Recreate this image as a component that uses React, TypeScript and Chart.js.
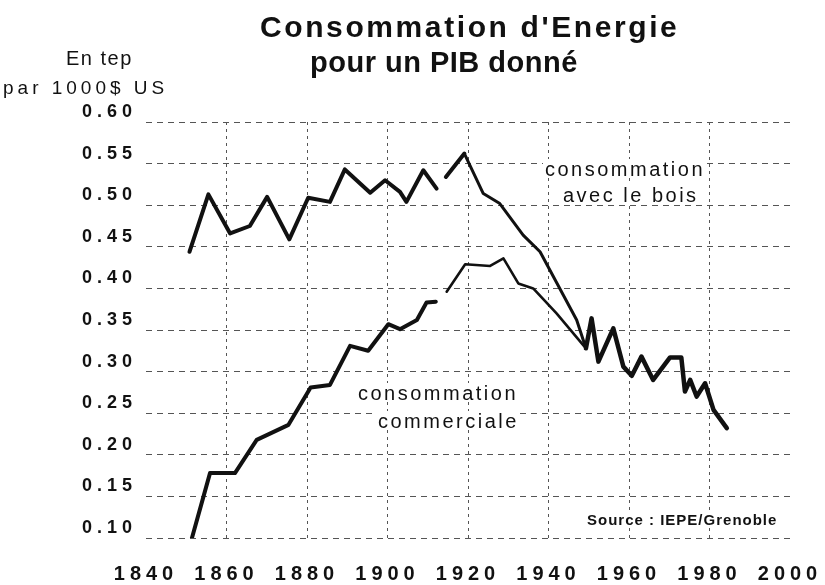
import React, { useEffect, useRef } from 'react';
import { Chart, registerables } from 'chart.js';

Chart.register(...registerables);

// ---- data ----
const BOIS_YEARS = [
  1850.8, 1855.5, 1860.9, 1865.8, 1870.1, 1875.6, 1880.3, 1885.7, 1889.4, 1895.7,
  1899.4, 1903.1, 1904.7, 1908.9, 1912.2, 1913.0, 1914.5, 1919.1, 1923.8, 1927.9,
  1933.7, 1937.9, 1947.0, 1949.3, 1950.7, 1952.4, 1956.1, 1958.6, 1960.7, 1963.1,
  1966.0, 1970.2, 1973.0, 1973.9, 1975.2, 1976.8, 1978.9, 1981.0, 1984.3,
];
const BOIS_VALUES: (number | null)[] = [
  0.444, 0.513, 0.466, 0.475, 0.510, 0.459, 0.509, 0.504, 0.543, 0.515,
  0.530, 0.516, 0.504, 0.542, 0.520, null, 0.534, 0.562, 0.514, 0.502,
  0.464, 0.444, 0.362, 0.328, 0.364, 0.312, 0.352, 0.306, 0.295, 0.318,
  0.290, 0.317, 0.317, 0.276, 0.290, 0.270, 0.286, 0.254, 0.232,
];
const COMM_YEARS = [
  1851.3, 1855.9, 1862.1, 1867.5, 1875.4, 1880.9, 1885.7, 1890.7, 1895.2, 1900.2,
  1903.1, 1907.3, 1909.7, 1912.0, 1913.0, 1914.7, 1919.3, 1925.5, 1928.8, 1932.5,
  1936.2, 1942.0, 1949.3,
];
const COMM_VALUES: (number | null)[] = [
  0.098, 0.178, 0.178, 0.218, 0.236, 0.281, 0.284, 0.331, 0.325, 0.357,
  0.351, 0.362, 0.383, 0.384, null, 0.396, 0.429, 0.427, 0.436, 0.406,
  0.400, 0.370, 0.328,
];
const X_MIN = 1840;
const X_MAX = 2000;
const X_STEP = 20;
const Y_MIN = 0.1;
const Y_MAX = 0.6;
const Y_STEP = 0.05;

const TITLE_LINES = ["Consommation d'Energie", 'pour un PIB donné'];
const UNIT_LINES = ['En tep', 'par 1000$ US'];
const BOIS_LABEL = ['consommation', 'avec le bois'];
const COMM_LABEL = ['consommation', 'commerciale'];
const SOURCE_TEXT = 'Source : IEPE/Grenoble';

const INK = '#111';
const GRID = '#555';

function toPoints(xs: number[], ys: (number | null)[]) {
  return xs.map((x, i) => ({ x, y: ys[i] }));
}

const textPlugin = {
  id: 'scanTexts',
  beforeDraw(chart: any) {
    const ctx = chart.ctx as CanvasRenderingContext2D;
    ctx.save();
    ctx.fillStyle = '#fff';
    ctx.fillRect(0, 0, chart.width, chart.height);
    ctx.restore();
    (ctx as any).letterSpacing = '5px';
  },
  afterDraw(chart: any) {
    const ctx = chart.ctx as CanvasRenderingContext2D;
    ctx.save();
    const draw = (
      text: string,
      x: number,
      y: number,
      font: string,
      spacing: number,
      clear = false
    ) => {
      ctx.font = font;
      (ctx as any).letterSpacing = spacing + 'px';
      ctx.textAlign = 'left';
      ctx.textBaseline = 'alphabetic';
      if (clear) {
        const m = ctx.measureText(text);
        ctx.fillStyle = '#fff';
        ctx.fillRect(
          x - 2,
          y - m.actualBoundingBoxAscent - 2,
          m.width + 2,
          m.actualBoundingBoxAscent + m.actualBoundingBoxDescent + 4
        );
      }
      ctx.fillStyle = INK;
      ctx.fillText(text, x, y);
    };
    const F = '"Liberation Sans", Arial, sans-serif';
    draw(TITLE_LINES[0], 260, 37, `bold 30px ${F}`, 2.6);
    draw(TITLE_LINES[1], 310, 72, `bold 29px ${F}`, 0.5);
    draw(UNIT_LINES[0], 66, 65, `20px ${F}`, 1.5);
    draw(UNIT_LINES[1], 3, 94, `19px ${F}`, 4);
    draw(BOIS_LABEL[0], 545, 176, `20px ${F}`, 2.5, true);
    draw(BOIS_LABEL[1], 563, 202, `20px ${F}`, 2.5, true);
    draw(COMM_LABEL[0], 358, 400, `20px ${F}`, 2.5, true);
    draw(COMM_LABEL[1], 378, 428, `20px ${F}`, 2.5, true);
    draw(SOURCE_TEXT, 587, 525, `bold 15px ${F}`, 1, true);
    ctx.restore();
    (ctx as any).letterSpacing = '0px';
  },
};

export default function App() {
  const ref = useRef<HTMLCanvasElement | null>(null);

  useEffect(() => {
    document.body.style.margin = '0';
    if (!ref.current) return;
    const chart = new Chart(ref.current, {
      type: 'line',
      data: {
        datasets: [
          {
            label: 'consommation avec le bois',
            data: toPoints(BOIS_YEARS, BOIS_VALUES),
            borderColor: INK,
            borderWidth: 4,
            pointRadius: 0,
            tension: 0,
            spanGaps: false,
            borderJoinStyle: 'round',
            borderCapStyle: 'round',
            segment: {
              borderWidth: (c: any) =>
                c.p0.parsed.x >= 1919 && c.p0.parsed.x < 1949 ? 3 : c.p0.parsed.x >= 1949 ? 4.5 : 4,
            },
          },
          {
            label: 'consommation commerciale',
            data: toPoints(COMM_YEARS, COMM_VALUES),
            borderColor: INK,
            borderWidth: 4,
            pointRadius: 0,
            tension: 0,
            spanGaps: false,
            borderJoinStyle: 'round',
            borderCapStyle: 'round',
            segment: {
              borderWidth: (c: any) => (c.p0.parsed.x >= 1913 ? 2.6 : 4),
            },
          },
        ],
      },
      options: {
        responsive: false,
        animation: false,
        devicePixelRatio: 1,
        parsing: true,
        layout: { padding: { top: 122, left: 0, right: 35, bottom: 0 } },
        plugins: {
          legend: { display: false },
          title: { display: false },
          tooltip: { enabled: false },
        },
        scales: {
          x: {
            type: 'linear',
            min: X_MIN,
            max: X_MAX,
            afterFit: (s: any) => {
              s.height = 47;
              s.paddingLeft = 0;
              s.paddingRight = 0;
            },
            ticks: {
              stepSize: X_STEP,
              color: INK,
              padding: 24,
              font: { family: '"Liberation Sans", Arial, sans-serif', size: 20, weight: 'bold' },
              callback: (v: any) => String(v),
              maxRotation: 0,
              autoSkip: false,
            },
            grid: {
              drawTicks: false,
              color: (c: any) =>
                c.tick && (c.tick.value === X_MIN || c.tick.value === X_MAX) ? 'rgba(0,0,0,0)' : GRID,
              lineWidth: 1,
            },
            border: { display: false, dash: [3, 4] },
          },
          y: {
            type: 'linear',
            min: Y_MIN,
            max: Y_MAX,
            afterFit: (s: any) => {
              s.width = 146;
            },
            ticks: {
              stepSize: Y_STEP,
              color: INK,
              padding: 9,
              labelOffset: -10,
              font: { family: '"Liberation Sans", Arial, sans-serif', size: 18, weight: 'bold' },
              callback: (v: any) => Number(v).toFixed(2),
              autoSkip: false,
            },
            grid: {
              drawTicks: false,
              color: GRID,
              lineWidth: 1,
            },
            border: { display: false, dash: [6, 5] },
          },
        },
      },
      plugins: [textPlugin],
    } as any);
    return () => chart.destroy();
  }, []);

  return (
    <div style={{ width: 825, height: 585 }}>
      <canvas ref={ref} width={825} height={585} style={{ display: 'block' }} />
    </div>
  );
}
